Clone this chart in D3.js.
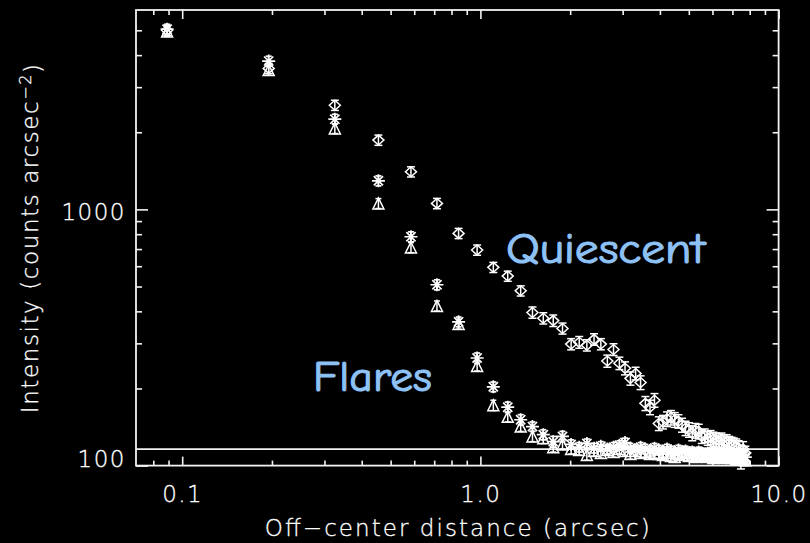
<!DOCTYPE html>
<html><head><meta charset="utf-8">
<script src="https://cdn.jsdelivr.net/npm/d3@7"></script>
<style>
html,body{margin:0;padding:0;background:#000;}
svg{display:block;}
</style></head><body>
<svg id="chart" width="810" height="543"></svg>
<script>
// ---------- data ----------
const distances = [0.089, 0.195, 0.325, 0.455, 0.585, 0.715, 0.845, 0.975, 1.105, 1.235,
  1.365, 1.495, 1.625, 1.755, 1.885, 2.015, 2.145, 2.275, 2.405, 2.535,
  2.665, 2.795, 2.925, 3.055, 3.185, 3.315, 3.445, 3.575, 3.705, 3.835,
  3.965, 4.095, 4.225, 4.355, 4.485, 4.615, 4.745, 4.875, 5.005, 5.135,
  5.265, 5.395, 5.525, 5.655, 5.785, 5.915, 6.045, 6.175, 6.305, 6.435,
  6.565, 6.695, 6.825, 6.955, 7.085, 7.215, 7.345, 7.475, 7.605, 7.735];

const quiescent = [5000, 3550, 2550, 1864, 1402, 1055, 806, 694, 594, 549,
  481, 396, 376, 368, 343, 298, 303, 295, 311, 298,
  256, 284, 251, 240, 219, 229, 211, 175, 169, 180,
  146, 148, 152, 154, 151, 149, 144, 140, 138, 134,
  137, 136, 130, 131, 128, 129, 127, 126, 125, 126,
  124, 124, 122, 121, 120, 119, 117, 104, 116, 112];
const quiescentErr = [230, 163, 117, 86, 64, 49, 37, 32, 27, 25,
  22, 20, 19, 19, 17, 15, 16, 15, 16, 15,
  14, 15, 14, 14, 13, 13, 13, 11, 11, 11,
  9, 9, 10, 10, 10, 9, 9, 9, 9, 9,
  9, 9, 8, 8, 8, 8, 8, 8, 8, 8,
  8, 8, 8, 8, 8, 8, 8, 7, 8, 7];

const flaresStar = [5050, 3790, 2250, 1293, 782, 508, 364, 263, 203, 169,
  151, 142, 132, 124, 130, 121, 118, 122, 117, 119,
  116, 118, 120, 123, 117, 115, 118, 116, 114, 117,
  115, 113, 116, 114, 112, 115, 113, 114, 112, 113,
  111, 113, 112, 110, 112, 111, 113, 110, 112, 111,
  110, 112, 111, 109, 111, 110, 109, 111, 110, 108];
const flaresStarErr = [230, 170, 100, 58, 35, 23, 16, 12, 9, 8,
  7, 6, 6, 6, 6, 5, 5, 5, 5, 5,
  5, 5, 5, 5, 5, 5, 5, 5, 5, 5,
  5, 5, 5, 5, 5, 5, 5, 5, 5, 5,
  5, 5, 5, 5, 5, 5, 5, 5, 5, 5,
  5, 5, 5, 5, 5, 5, 5, 5, 5, 5];

const flaresTri = [4950, 3496, 2070, 1055, 710, 420, 357, 245, 172, 155,
  142, 130, 128, 118, 121, 116, 115, 110, 114, 112,
  115, 113, 116, 114, 111, 114, 112, 113, 111, 112,
  111, 110, 112, 109, 108, 111, 110, 112, 109, 110,
  108, 111, 109, 110, 108, 109, 107, 110, 108, 109,
  107, 108, 110, 107, 108, 106, 108, 107, 106, 105];
const flaresTriErr = [220, 157, 93, 47, 32, 19, 16, 11, 8, 7,
  6, 6, 6, 5, 5, 5, 5, 5, 5, 5,
  5, 5, 5, 5, 5, 5, 5, 5, 5, 5,
  5, 5, 5, 5, 5, 5, 5, 5, 5, 5,
  5, 5, 5, 5, 5, 5, 5, 5, 5, 5,
  5, 5, 5, 5, 5, 5, 5, 5, 5, 5];

const backgroundLevel = 116;

const xMajorTicks = [0.1, 1, 10];
const xTickLabels = ["0.1", "1.0", "10.0"];
const xMinorTicks = [0.08, 0.09, 0.2, 0.3, 0.4, 0.5, 0.6, 0.7, 0.8, 0.9, 2, 3, 4, 5, 6, 7, 8, 9];
const yMajorTicks = [100, 1000];
const yTickLabels = ["100", "1000"];
const yMinorTicks = [200, 300, 400, 500, 600, 700, 800, 900, 2000, 3000, 4000, 5000];

const xLabel = "Off\u2212center distance (arcsec)";
const yLabelMain = "Intensity (counts arcsec";
const yLabelSup = "\u22122";
const annotQuiescent = "Quiescent";
const annotFlares = "Flares";

// ---------- layout ----------
const L = 136, R = 778.6, T = 10, B = 465.6;
const fg = "#f2f2f2";
const textFg = "#ffffff";
const annotColor = "#8ec1f5";
const font = "'DejaVu Sans', sans-serif";
const fontWeight = 200;

const svg = d3.select("#chart");
svg.append("rect").attr("width", 810).attr("height", 543).attr("fill", "#000");

const x = d3.scaleLog().domain([0.07, 10]).range([L, R]);
const y = d3.scaleLog().domain([100, 6000]).range([B, T]);

function styleAxis(g) {
  g.select(".domain").remove();
  g.selectAll("line").attr("stroke", fg).attr("stroke-width", 1.6);
  g.selectAll("text").attr("fill", textFg).attr("stroke", textFg).attr("stroke-width", 0.3)
    .style("font-family", font)
    .style("font-weight", fontWeight).style("font-size", "23px").style("letter-spacing", "1.5px");
}

// bottom
svg.append("g").attr("transform", `translate(0,${B})`)
  .call(d3.axisBottom(x).tickValues(xMinorTicks).tickSize(-5).tickFormat(""))
  .call(styleAxis);
svg.append("g").attr("transform", `translate(0,${B})`)
  .call(d3.axisBottom(x).tickValues(xMajorTicks).tickSize(-9).tickPadding(20)
    .tickFormat((d, i) => xTickLabels[i]))
  .call(styleAxis);
// top
svg.append("g").attr("transform", `translate(0,${T})`)
  .call(d3.axisTop(x).tickValues(xMinorTicks).tickSize(-5).tickFormat(""))
  .call(styleAxis);
svg.append("g").attr("transform", `translate(0,${T})`)
  .call(d3.axisTop(x).tickValues(xMajorTicks).tickSize(-9).tickFormat(""))
  .call(styleAxis);
// left
svg.append("g").attr("transform", `translate(${L},0)`)
  .call(d3.axisLeft(y).tickValues(yMinorTicks).tickSize(-6).tickFormat(""))
  .call(styleAxis);
const yMajG = svg.append("g").attr("transform", `translate(${L},0)`)
  .call(d3.axisLeft(y).tickValues(yMajorTicks).tickSize(-12).tickPadding(10)
    .tickFormat((d, i) => yTickLabels[i]))
  .call(styleAxis);
yMajG.selectAll("text").attr("dy", "0.42em")
  .attr("transform", d => d === y.domain()[0] ? "translate(0,-9)" : null);
// right
svg.append("g").attr("transform", `translate(${R},0)`)
  .call(d3.axisRight(y).tickValues(yMinorTicks).tickSize(-6).tickFormat(""))
  .call(styleAxis);
svg.append("g").attr("transform", `translate(${R},0)`)
  .call(d3.axisRight(y).tickValues(yMajorTicks).tickSize(-12).tickFormat(""))
  .call(styleAxis);

// frame
svg.append("rect").attr("x", L).attr("y", T).attr("width", R - L).attr("height", B - T)
  .attr("fill", "none").attr("stroke", fg).attr("stroke-width", 1.8);

// background level line
svg.append("line").attr("x1", L).attr("x2", R)
  .attr("y1", y(backgroundLevel)).attr("y2", y(backgroundLevel))
  .attr("stroke", fg).attr("stroke-width", 1.6);

// axis titles
svg.append("text").attr("x", (L + R) / 2).attr("y", 536).attr("text-anchor", "middle")
  .attr("fill", textFg).attr("stroke", textFg).attr("stroke-width", 0.3)
  .style("font-family", font).style("font-weight", fontWeight)
  .style("font-size", "23px").attr("textLength", 385).attr("lengthAdjust", "spacing").text(xLabel);
const yt = svg.append("text")
  .attr("transform", `translate(38,${(T + B) / 2}) rotate(-90)`)
  .attr("text-anchor", "middle").attr("fill", textFg).attr("stroke", textFg).attr("stroke-width", 0.3)
  .style("font-family", font).style("font-weight", fontWeight).style("font-size", "23px")
  .style("letter-spacing", "1.6px");
yt.append("tspan").text(yLabelMain);
yt.append("tspan").attr("dy", "-0.45em").style("font-size", "16px").text(yLabelSup);
yt.append("tspan").attr("dy", "0.45em").text(")");

// ---------- marks ----------
function series(vals, errs) {
  return distances.map((d, i) => ({ x: d, v: vals[i], e: errs[i] }));
}
const diamondPath = "M0,-5 L5.5,0 L0,5 L-5.5,0 Z";
const starPath = "M-6.5,0 H6.5 M0,-6.5 V6.5 M-4.6,-4.6 L4.6,4.6 M-4.6,4.6 L4.6,-4.6";
const triPath = "M0,-5.5 L5.5,5.5 L-5.5,5.5 Z";

function drawSeries(data, path, capW, sw) {
  const g = svg.append("g").attr("stroke", "#ffffff").attr("stroke-width", sw).attr("fill", "none");
  const pts = g.selectAll("g").data(data).join("g");
  pts.append("line")
    .attr("x1", d => x(d.x)).attr("x2", d => x(d.x))
    .attr("y1", d => y(d.v + d.e)).attr("y2", d => y(d.v - d.e));
  pts.append("line")
    .attr("x1", d => x(d.x) - capW).attr("x2", d => x(d.x) + capW)
    .attr("y1", d => y(d.v + d.e)).attr("y2", d => y(d.v + d.e));
  pts.append("line")
    .attr("x1", d => x(d.x) - capW).attr("x2", d => x(d.x) + capW)
    .attr("y1", d => y(d.v - d.e)).attr("y2", d => y(d.v - d.e));
  pts.append("path").attr("d", path)
    .attr("transform", d => `translate(${x(d.x)},${y(d.v)})`);
}
drawSeries(series(quiescent, quiescentErr), diamondPath, 4, 1.5);
drawSeries(series(flaresTri, flaresTriErr), triPath, 3, 1.5);
drawSeries(series(flaresStar, flaresStarErr), starPath, 3, 1.7);

// annotations
const annotFont = "'Comic Sans MS','Comic Neue',Lato,sans-serif";
svg.append("text").attr("x", 506).attr("y", 263).attr("fill", annotColor)
  .attr("stroke", annotColor).attr("stroke-width", 1.1)
  .style("font-family", annotFont).style("font-size", "42px")
  .attr("textLength", 199).attr("lengthAdjust", "spacingAndGlyphs").text(annotQuiescent);
svg.append("text").attr("x", 313).attr("y", 391).attr("fill", annotColor)
  .attr("stroke", annotColor).attr("stroke-width", 1.1)
  .style("font-family", annotFont).style("font-size", "42px")
  .attr("textLength", 119).attr("lengthAdjust", "spacingAndGlyphs").text(annotFlares);
</script>
</body></html>
